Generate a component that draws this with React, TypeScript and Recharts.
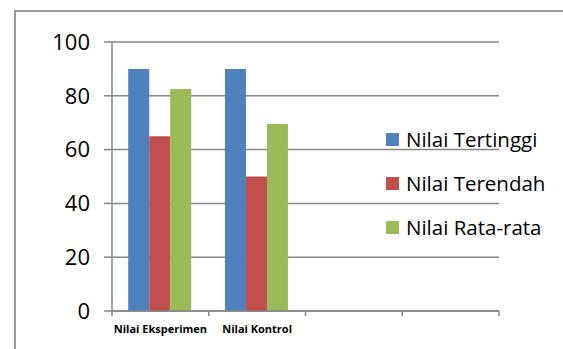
import React from "react";
import { BarChart, Bar, XAxis, YAxis, CartesianGrid } from "recharts";

const categories = ["Nilai Eksperimen", "Nilai Kontrol", "", ""];
const nilaiTertinggi = [90, 90, null, null];
const nilaiTerendah = [65, 50, null, null];
const nilaiRataRata = [82.5, 69.5, null, null];
const yTicks = [0, 20, 40, 60, 80, 100];

const seriesNames = ["Nilai Tertinggi", "Nilai Terendah", "Nilai Rata-rata"];
const seriesColors = ["#4f81bd", "#c0504d", "#9bbb59"];

const data = categories.map((c, i) => ({
  name: c,
  a: nilaiTertinggi[i],
  b: nilaiTerendah[i],
  c: nilaiRataRata[i],
}));

const FONT = "'Open Sans', Lato, sans-serif";
const GRID = "#868686";

const W = 563;
const H = 349;
const M = { top: 42, right: 64, bottom: 8, left: 52 };
const Y_AXIS_W = 60;
const X_AXIS_H = 30;
const plotW = W - M.left - M.right - Y_AXIS_W;
const band = plotW / categories.length;
const axisY = H - M.bottom - X_AXIS_H;

function CatTick(props: any) {
  const { x, index, payload } = props;
  const half = band / 2;
  return (
    <g>
      <line x1={x - half} x2={x - half} y1={axisY} y2={axisY + 5} stroke={GRID} strokeWidth={1.5} />
      {index === categories.length - 1 && (
        <line x1={x + half} x2={x + half} y1={axisY} y2={axisY + 5} stroke={GRID} strokeWidth={1.5} />
      )}
      <text
        x={x}
        y={axisY + 22}
        textAnchor="middle"
        fontSize={11}
        fontWeight={700}
        fontFamily={FONT}
        fill="#000"
      >
        {payload.value}
      </text>
    </g>
  );
}

export default function App() {
  return (
    <div
      style={{
        position: "absolute",
        left: 0,
        top: 0,
        width: W,
        height: H,
        overflow: "hidden",
        background: "#fff",
        fontFamily: FONT,
      }}
    >
      <div
        style={{
          position: "absolute",
          left: 14,
          top: 10,
          width: 600,
          height: 400,
          border: "2px solid #9a9a9a",
          boxSizing: "border-box",
        }}
      />
      <div style={{ position: "absolute", left: 0, top: 0 }}>
        <BarChart
          width={W}
          height={H}
          data={data}
          margin={M}
          barCategoryGap="16.75%"
          barGap={0}
        >
          <CartesianGrid vertical={false} stroke={GRID} strokeWidth={1.5} />
          <XAxis
            dataKey="name"
            height={X_AXIS_H}
            stroke={GRID}
            strokeWidth={1.5}
            tickLine={false}
            interval={0}
            tick={<CatTick />}
          />
          <YAxis
            width={Y_AXIS_W}
            domain={[0, 100]}
            ticks={yTicks}
            interval={0}
            stroke={GRID}
            strokeWidth={1.5}
            tickSize={8}
            tick={{ fill: "#000", fontSize: 22, fontFamily: FONT, dx: -12 }}
          />
          {["a", "b", "c"].map((k, i) => (
            <Bar
              key={k}
              dataKey={k}
              name={seriesNames[i]}
              fill={seriesColors[i]}
              isAnimationActive={false}
            />
          ))}
        </BarChart>
      </div>
      {seriesNames.map((n, i) => (
        <div
          key={n}
          style={{
            position: "absolute",
            left: 386,
            top: 127 + i * 44,
            height: 24,
            display: "flex",
            alignItems: "center",
            fontSize: 20.5,
            color: "#000",
            whiteSpace: "nowrap",
          }}
        >
          <span
            style={{
              display: "inline-block",
              width: 13,
              height: 13,
              background: seriesColors[i],
              marginRight: 7,
            }}
          />
          {n}
        </div>
      ))}
    </div>
  );
}
